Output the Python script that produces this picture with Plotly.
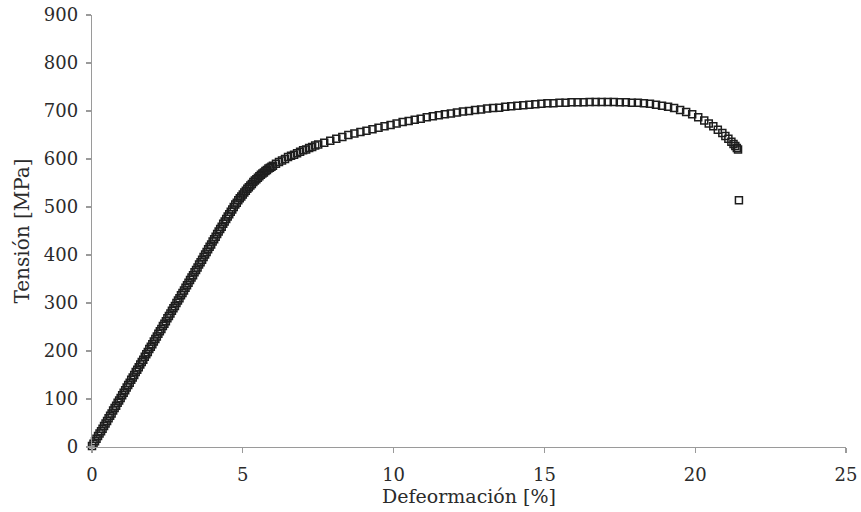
import plotly.graph_objects as go

# Strain [%] and stress [MPa]
strain = [0.00, 0.05, 0.10, 0.15, 0.20, 0.25, 0.30, 0.35, 0.40, 0.45,
          0.50, 0.55, 0.60, 0.65, 0.70, 0.75, 0.80, 0.85, 0.90, 0.95,
          1.00, 1.05, 1.10, 1.15, 1.20, 1.25, 1.30, 1.35, 1.40, 1.45,
          1.50, 1.55, 1.60, 1.65, 1.70, 1.75, 1.80, 1.85, 1.90, 1.95,
          2.00, 2.05, 2.10, 2.15, 2.20, 2.25, 2.30, 2.35, 2.40, 2.45,
          2.50, 2.55, 2.60, 2.65, 2.70, 2.75, 2.80, 2.85, 2.90, 2.95,
          3.00, 3.05, 3.10, 3.15, 3.20, 3.25, 3.30, 3.35, 3.40, 3.45,
          3.50, 3.55, 3.60, 3.65, 3.70, 3.75, 3.80, 3.85, 3.90, 3.95,
          4.00, 4.05, 4.10, 4.15, 4.20, 4.25, 4.30, 4.35, 4.40, 4.45,
          4.50, 4.55, 4.60, 4.65, 4.70, 4.75, 4.80, 4.85, 4.90, 4.95,
          5.00, 5.05, 5.10, 5.15, 5.20, 5.25, 5.30, 5.35, 5.40, 5.45,
          5.50, 5.55, 5.60, 5.65, 5.70, 5.75, 5.80, 5.85, 5.90, 5.95,
          6.0, 6.1, 6.2, 6.3, 6.4, 6.5, 6.6, 6.7, 6.8, 6.9,
          7.0, 7.1, 7.2, 7.3, 7.4, 7.5, 7.7, 7.9, 8.1, 8.3,
          8.5, 8.7, 8.9, 9.1, 9.3, 9.5, 9.7, 9.9, 10.1, 10.3,
          10.5, 10.7, 10.9, 11.1, 11.3, 11.5, 11.7, 11.9, 12.1, 12.3,
          12.5, 12.7, 12.9, 13.1, 13.3, 13.5, 13.7, 13.9, 14.1, 14.3,
          14.5, 14.7, 14.9, 15.1, 15.3, 15.5, 15.7, 15.9, 16.1, 16.3,
          16.5, 16.7, 16.9, 17.1, 17.3, 17.5, 17.7, 17.9, 18.1, 18.3,
          18.5, 18.7, 18.9, 19.1, 19.3, 19.5, 19.7, 19.9, 20.1, 20.3,
          20.45, 20.6, 20.75, 20.9, 21.0, 21.1, 21.2, 21.27, 21.33, 21.38,
          21.42, 21.45]
stress = [2, 7, 12, 17, 23, 28, 33, 38, 44, 49,
          54, 60, 65, 70, 76, 81, 86, 92, 97, 102,
          108, 113, 118, 124, 129, 134, 140, 145, 150, 156,
          161, 166, 172, 177, 182, 188, 193, 198, 204, 209,
          214, 220, 225, 230, 236, 241, 246, 252, 257, 262,
          268, 273, 278, 284, 289, 294, 300, 305, 310, 316,
          321, 326, 332, 337, 342, 348, 353, 358, 364, 369,
          374, 380, 385, 390, 396, 401, 406, 412, 417, 422,
          428, 433, 438, 444, 449, 454, 459, 465, 470, 475,
          480, 485, 490, 495, 500, 505, 509, 514, 518, 522,
          526, 530, 534, 538, 541, 545, 548, 552, 555, 558,
          561, 564, 567, 570, 572, 575, 577, 580, 582, 584,
          586, 590, 594, 597, 600, 604, 607, 609, 612, 615,
          618, 620, 623, 625, 628, 630, 634, 638, 642, 646,
          650, 653, 656, 659, 662, 665, 668, 671, 674, 677,
          679, 682, 684, 687, 689, 691, 693, 695, 697, 699,
          700, 702, 703, 705, 706, 707, 709, 710, 711, 712,
          713, 714, 715, 716, 716, 717, 717, 718, 718, 718,
          719, 719, 719, 719, 719, 718, 718, 717, 717, 716,
          715, 713, 711, 709, 706, 702, 698, 693, 687, 680,
          674, 668, 661, 654, 648, 642, 636, 631, 627, 623,
          620, 514]

x_ticks = [0, 5, 10, 15, 20, 25]
y_ticks = [0, 100, 200, 300, 400, 500, 600, 700, 800, 900]

font_family = "DejaVu Serif"
text_color = "#2b2b2b"

fig = go.Figure()
fig.add_trace(go.Scatter(
    x=strain, y=stress, mode="markers",
    marker=dict(symbol="square-open", size=7, color="#1e1e1e",
                line=dict(width=1.5, color="#1e1e1e")),
    cliponaxis=False, showlegend=False, hoverinfo="skip",
))

axis_common = dict(
    showgrid=False, zeroline=False, showline=True, linecolor="#9a9a9a",
    linewidth=1.3, ticks="outside", ticklen=5, tickcolor="#9a9a9a",
    tickwidth=1.3, tickfont=dict(family=font_family, size=18, color=text_color),
)

fig.update_xaxes(range=[0, 25], tickvals=x_ticks, ticktext=[str(v) for v in x_ticks],
                 ticklabelstandoff=6,
                 title=dict(text="Defeormación [%]", standoff=2,
                            font=dict(family=font_family, size=19, color=text_color)),
                 **axis_common)
fig.update_yaxes(range=[0, 900], tickvals=y_ticks, ticktext=[str(v) for v in y_ticks],
                 ticklabelstandoff=4,
                 title=dict(text="Tensión [MPa]", standoff=8,
                            font=dict(family=font_family, size=20, color=text_color)),
                 **axis_common)

fig.update_layout(
    width=861, height=512,
    margin=dict(l=92, r=15, t=15, b=65, autoexpand=False),
    paper_bgcolor="white", plot_bgcolor="white",
)

fig.write_html("out.html", config={"displayModeBar": False, "staticPlot": True},
               post_script="document.body.style.margin='0';document.body.style.overflow='hidden';")
